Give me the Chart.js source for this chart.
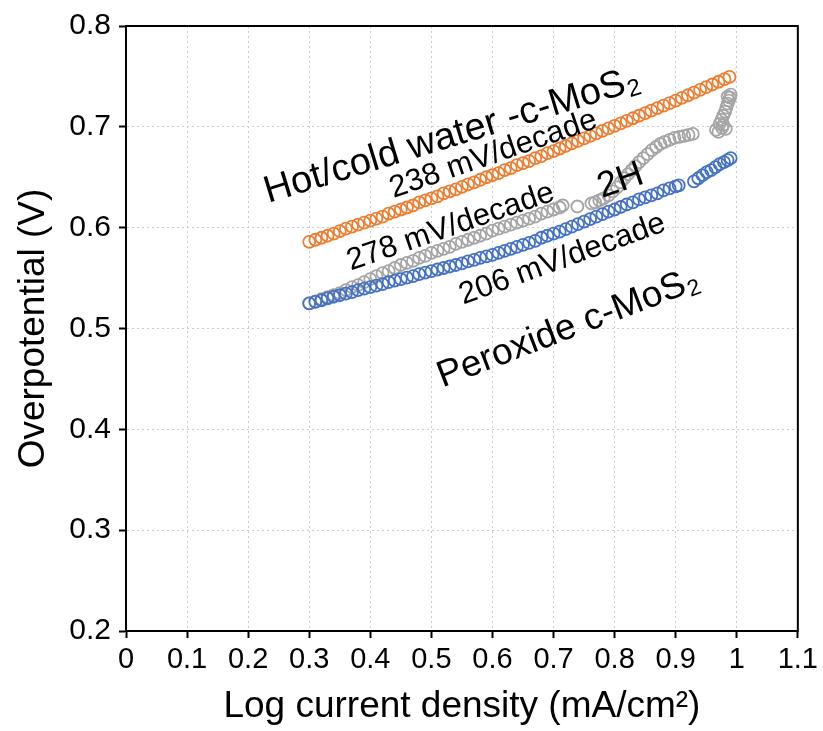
<!DOCTYPE html>
<html>
<head>
<meta charset="utf-8">
<title>Tafel plot</title>
<script src="https://cdn.jsdelivr.net/npm/chart.js@4.4.1/dist/chart.umd.min.js"></script>
<style>
  html, body { margin: 0; padding: 0; background: #fff; }
  #wrap { width: 823px; height: 731px; }
</style>
</head>
<body>
<div id="wrap"><canvas id="tafel" width="823" height="731"></canvas></div>
<script>
// x = log current density (mA/cm2), y = overpotential (V)
const hotColdX = [0.30, 0.31, 0.32, 0.33, 0.34, 0.35, 0.36, 0.37, 0.38, 0.39,
  0.40, 0.41, 0.42, 0.43, 0.44, 0.45, 0.46, 0.47, 0.48, 0.49,
  0.50, 0.51, 0.52, 0.53, 0.54, 0.55, 0.56, 0.57, 0.58, 0.59,
  0.60, 0.61, 0.62, 0.63, 0.64, 0.65, 0.66, 0.67, 0.68, 0.69,
  0.70, 0.71, 0.72, 0.73, 0.74, 0.75, 0.76, 0.77, 0.78, 0.79,
  0.80, 0.81, 0.82, 0.83, 0.84, 0.85, 0.86, 0.87, 0.88, 0.89,
  0.90, 0.91, 0.92, 0.93, 0.94, 0.95, 0.96, 0.97, 0.98, 0.988]
const hotColdY = [0.586, 0.588, 0.590, 0.592, 0.594, 0.5965, 0.599, 0.601, 0.603, 0.605,
  0.607, 0.609, 0.611, 0.614, 0.616, 0.618, 0.620, 0.622, 0.625, 0.627,
  0.629, 0.631, 0.634, 0.636, 0.638, 0.6405, 0.643, 0.645, 0.6475, 0.650,
  0.652, 0.654, 0.657, 0.659, 0.662, 0.664, 0.666, 0.669, 0.671, 0.674,
  0.676, 0.6785, 0.681, 0.6835, 0.686, 0.6885, 0.691, 0.6935, 0.696, 0.6985,
  0.701, 0.7035, 0.706, 0.7085, 0.711, 0.7135, 0.716, 0.7185, 0.721, 0.7235,
  0.726, 0.7287, 0.7313, 0.734, 0.7367, 0.7393, 0.742, 0.7447, 0.7473, 0.7495]

const twoHX = [0.30, 0.31, 0.32, 0.33, 0.34, 0.35, 0.36, 0.37, 0.38, 0.39,
  0.40, 0.41, 0.42, 0.43, 0.44, 0.45, 0.46, 0.47, 0.48, 0.49,
  0.50, 0.51, 0.52, 0.53, 0.54, 0.55, 0.56, 0.57, 0.58, 0.59,
  0.60, 0.61, 0.62, 0.63, 0.64, 0.65, 0.66, 0.67, 0.68, 0.69,
  0.70, 0.71, 0.715, 0.739,
  0.762, 0.768, 0.775, 0.782, 0.790, 0.797, 0.804, 0.810, 0.816, 0.822,
  0.828, 0.834, 0.840, 0.847, 0.854, 0.861, 0.868, 0.875, 0.882, 0.890,
  0.898, 0.906, 0.914, 0.921, 0.928,
  0.966, 0.970, 0.982, 0.976, 0.978, 0.972, 0.975, 0.978, 0.981, 0.983,
  0.985, 0.987, 0.989, 0.985, 0.990]
const twoHY = [0.525, 0.527, 0.529, 0.531, 0.533, 0.535, 0.538, 0.541, 0.543, 0.546,
  0.549, 0.552, 0.555, 0.557, 0.560, 0.563, 0.565, 0.567, 0.570, 0.572,
  0.575, 0.577, 0.579, 0.581, 0.584, 0.586, 0.588, 0.590, 0.592, 0.594,
  0.597, 0.599, 0.601, 0.603, 0.605, 0.607, 0.609, 0.611, 0.614, 0.616,
  0.618, 0.620, 0.622, 0.621,
  0.624, 0.625, 0.627, 0.629, 0.632, 0.636, 0.640, 0.645, 0.649, 0.653,
  0.657, 0.661, 0.665, 0.669, 0.673, 0.677, 0.680, 0.683, 0.685, 0.687,
  0.689, 0.690, 0.691, 0.692, 0.693,
  0.697, 0.695, 0.698, 0.699, 0.702, 0.703, 0.707, 0.711, 0.715, 0.719,
  0.723, 0.726, 0.729, 0.730, 0.732]

const peroxideX = [0.30, 0.31, 0.32, 0.33, 0.34, 0.35, 0.36, 0.37, 0.38, 0.39,
  0.40, 0.41, 0.42, 0.43, 0.44, 0.45, 0.46, 0.47, 0.48, 0.49,
  0.50, 0.51, 0.52, 0.53, 0.54, 0.55, 0.56, 0.57, 0.58, 0.59,
  0.60, 0.61, 0.62, 0.63, 0.64, 0.65, 0.66, 0.67, 0.68, 0.69,
  0.70, 0.71, 0.72, 0.73, 0.74, 0.75, 0.76, 0.77, 0.78, 0.79,
  0.80, 0.81, 0.82, 0.83, 0.84, 0.85, 0.86, 0.87, 0.88, 0.89,
  0.90, 0.905,
  0.930, 0.937, 0.944, 0.951, 0.958, 0.965, 0.972, 0.979, 0.985, 0.990]
const peroxideY = [0.525, 0.5265, 0.528, 0.530, 0.5315, 0.533, 0.5345, 0.536, 0.538, 0.5395,
  0.541, 0.5425, 0.544, 0.546, 0.5475, 0.549, 0.5505, 0.552, 0.554, 0.5555,
  0.557, 0.5585, 0.560, 0.5615, 0.563, 0.5645, 0.5665, 0.568, 0.570, 0.5715,
  0.573, 0.575, 0.577, 0.579, 0.581, 0.583, 0.585, 0.587, 0.590, 0.592,
  0.594, 0.596, 0.5985, 0.601, 0.6035, 0.606, 0.6085, 0.611, 0.6135, 0.616,
  0.618, 0.6205, 0.623, 0.625, 0.628, 0.630, 0.632, 0.634, 0.637, 0.639,
  0.641, 0.642,
  0.646, 0.649, 0.652, 0.655, 0.657, 0.660, 0.663, 0.665, 0.667, 0.669]

const xTicks = [0, 0.1, 0.2, 0.3, 0.4, 0.5, 0.6, 0.7, 0.8, 0.9, 1, 1.1]
const yTicks = [0.2, 0.3, 0.4, 0.5, 0.6, 0.7, 0.8]

const FONT = "'Liberation Sans', Arial, Helvetica, sans-serif"

// rotated text labels, anchored in data coordinates; sub = subscript tail
const notes = [
  { text: 'Hot/cold water -c-MoS', sub: '2', x: 0.532, y: 0.694, size: 38, angle: -17 },
  { text: '238 mV/decade', x: 0.600, y: 0.675, size: 31, angle: -19 },
  { text: '278 mV/decade', x: 0.530, y: 0.603, size: 31, angle: -19 },
  { text: '2H', x: 0.808, y: 0.649, size: 36, angle: -19 },
  { text: '206 mV/decade', x: 0.713, y: 0.571, size: 31, angle: -20 },
  { text: 'Peroxide c-MoS', sub: '2', x: 0.722, y: 0.503, size: 37, angle: -21 }
]

const pairs = (xs, ys) => xs.map((x, i) => ({ x: x, y: ys[i] }))

const notesPlugin = {
  id: 'notes',
  afterDraw (chart) {
    const ctx = chart.ctx
    const area = chart.chartArea
    ctx.save()
    // full frame around the plot
    ctx.strokeStyle = '#000'
    ctx.lineWidth = 2
    ctx.strokeRect(area.left, area.top, area.right - area.left, area.bottom - area.top)

    notes.forEach(n => {
      const px = chart.scales.x.getPixelForValue(n.x)
      const py = chart.scales.y.getPixelForValue(n.y)
      const subSize = Math.round(n.size * 0.62)
      ctx.font = `${n.size}px ${FONT}`
      const w1 = ctx.measureText(n.text).width
      ctx.font = `${subSize}px ${FONT}`
      const w2 = n.sub ? ctx.measureText(n.sub).width + 1 : 0
      ctx.save()
      ctx.translate(px, py)
      ctx.rotate(n.angle * Math.PI / 180)
      ctx.fillStyle = '#000'
      ctx.textBaseline = 'alphabetic'
      ctx.textAlign = 'left'
      const start = -(w1 + w2) / 2
      const base = n.size * 0.36
      ctx.font = `${n.size}px ${FONT}`
      ctx.fillText(n.text, start, base)
      if (n.sub) {
        ctx.font = `${subSize}px ${FONT}`
        ctx.fillText(n.sub, start + w1 + 1, base + n.size * 0.12)
      }
      ctx.restore()
    })
    ctx.restore()
  }
}

const dotted = {
  color: '#cccccc',
  lineWidth: 1,
  tickColor: '#000',
  tickLength: 7,
  tickWidth: 2
}

const ring = (label, xs, ys, colour) => ({
  label: label,
  data: pairs(xs, ys),
  showLine: false,
  pointRadius: 6,
  pointBorderWidth: 1.8,
  pointBorderColor: colour,
  pointBackgroundColor: 'rgba(255,255,255,0)',
  borderColor: colour
})

new Chart(document.getElementById('tafel'), {
  type: 'scatter',
  data: {
    datasets: [
      ring('Peroxide c-MoS2', peroxideX, peroxideY, '#4472C4'),
      ring('2H', twoHX, twoHY, '#A5A5A5'),
      ring('Hot/cold water -c-MoS2', hotColdX, hotColdY, '#ED7D31')
    ]
  },
  options: {
    responsive: false,
    animation: false,
    devicePixelRatio: 1,
    events: [],
    layout: { padding: { top: 24, right: 19, left: 8, bottom: 0 } },
    plugins: {
      legend: { display: false },
      tooltip: { enabled: false }
    },
    scales: {
      x: {
        type: 'linear',
        min: 0,
        max: 1.1,
        afterBuildTicks: scale => { scale.ticks = xTicks.map(v => ({ value: v })) },
        afterFit: scale => { scale.height = 100 },
        ticks: {
          color: '#000',
          padding: 5,
          font: { family: FONT, size: 29 },
          callback: v => String(Math.round(v * 10) / 10)
        },
        grid: dotted,
        border: { display: true, color: '#000', width: 2, dash: [2, 3] },
        title: {
          display: true,
          text: 'Log current density (mA/cm²)',
          color: '#000',
          font: { family: FONT, size: 37 },
          padding: { top: 0, bottom: 2 }
        }
      },
      y: {
        type: 'linear',
        min: 0.2,
        max: 0.8,
        afterBuildTicks: scale => { scale.ticks = yTicks.map(v => ({ value: v })) },
        afterFit: scale => { scale.width = 118 },
        ticks: {
          color: '#000',
          padding: 8,
          font: { family: FONT, size: 30 },
          callback: v => (Math.round(v * 10) / 10).toFixed(1)
        },
        grid: dotted,
        border: { display: true, color: '#000', width: 2, dash: [2, 3] },
        title: {
          display: true,
          text: 'Overpotential (V)',
          color: '#000',
          font: { family: FONT, size: 37 },
          padding: { top: 4, bottom: 0 }
        }
      }
    }
  },
  plugins: [notesPlugin]
})
</script>
</body>
</html>
